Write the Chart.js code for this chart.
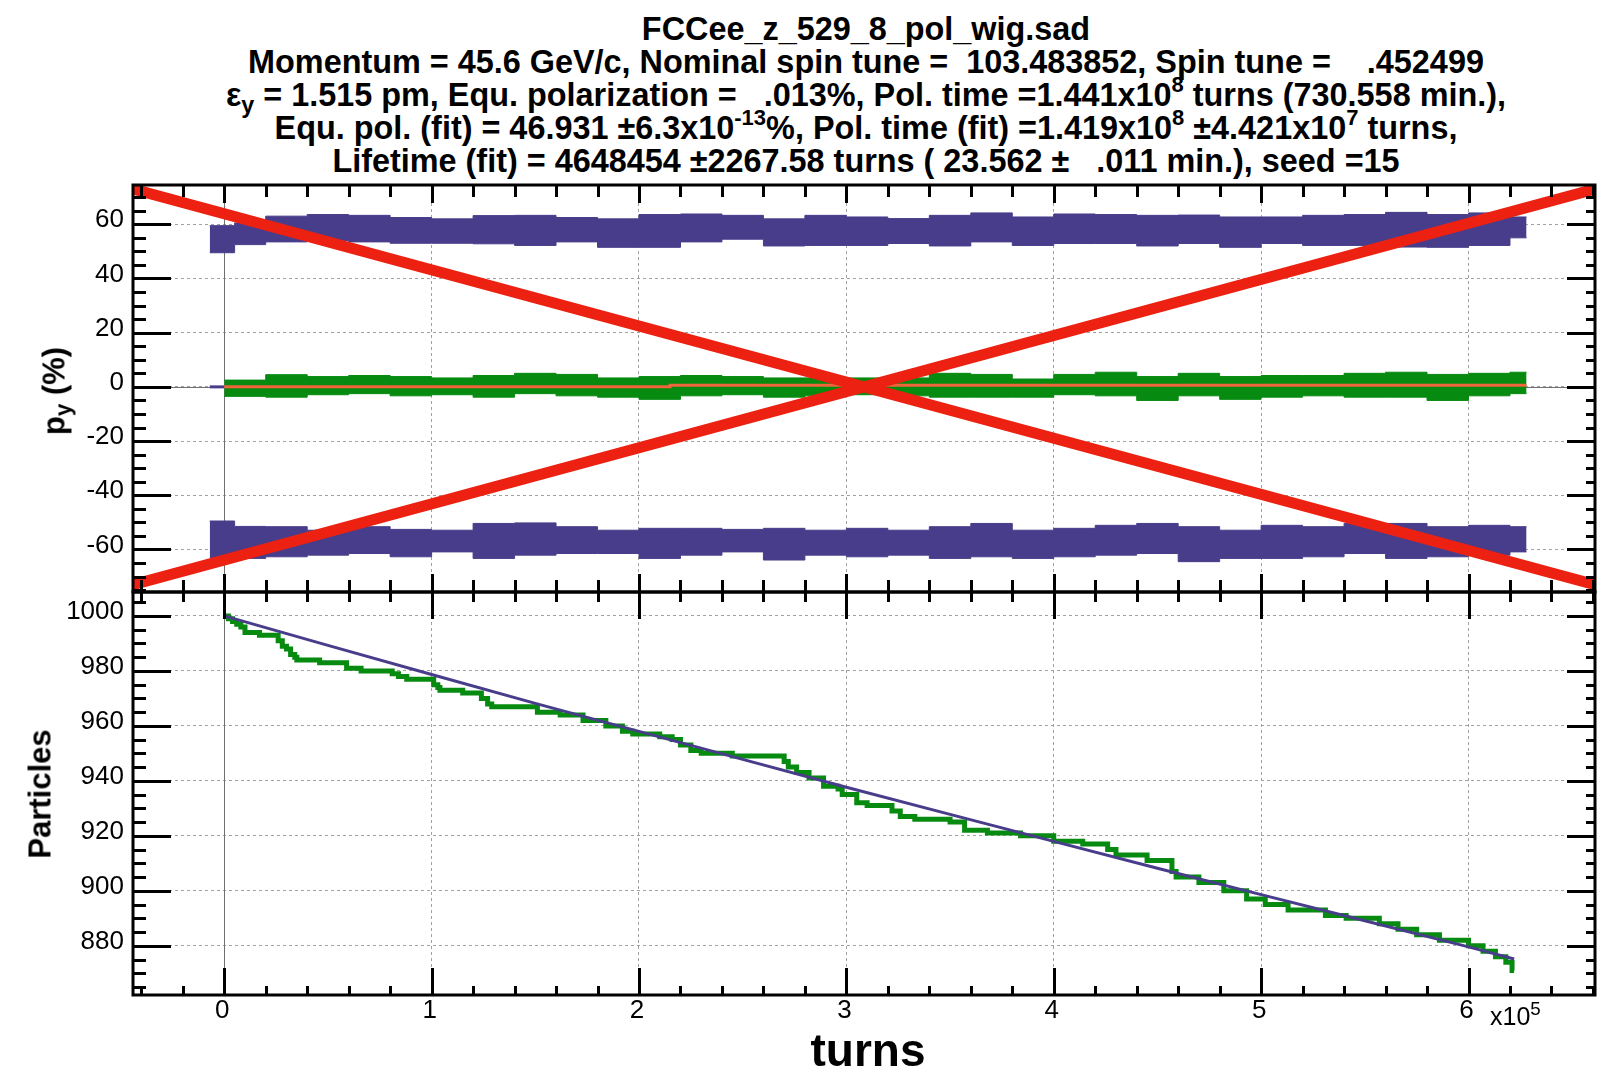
<!DOCTYPE html>
<html>
<head>
<meta charset="utf-8">
<title>FCCee_z_529_8_pol_wig.sad</title>
<script src="https://cdn.jsdelivr.net/npm/chart.js@4.4.1/dist/chart.umd.min.js"></script>
<style>
    html, body { margin: 0; padding: 0; background: #fff; }
    body { position: relative; width: 1598px; height: 1072px; overflow: hidden;
           font-family: "Liberation Sans", Arial, Helvetica, sans-serif; color: #000; }
    #title { position: absolute; left: 0; top: 13px; width: 1732px; text-align: center;
             font-weight: bold; font-size: 32.4px; line-height: 33px; white-space: pre; }
    #title sup { font-size: 0.68em; vertical-align: 0.62em; line-height: 0; }
    #title sub { font-size: 0.72em; vertical-align: -0.28em; line-height: 0; }
    canvas { position: absolute; left: 0; }
    #topChart { top: 180px; }
    #bottomChart { top: 587px; }
    .label { position: absolute; white-space: nowrap; line-height: 1; }
    .ytitle { font-weight: bold; font-size: 31px; transform: translate(-50%, -50%) rotate(-90deg); }
    .ytitle sub { font-size: 0.72em; vertical-align: -0.25em; line-height: 0; }
    #xTitle { left: 868px; top: 1050px; font-weight: bold; font-size: 46px; transform: translate(-50%, -50%); }
    #xExp { left: 1490px; top: 1004px; font-size: 25px; }
    #xExp sup { font-size: 0.75em; vertical-align: 0.55em; line-height: 0; }
</style>
</head>
<body>

<div id="title"><div>FCCee_z_529_8_pol_wig.sad</div><div>Momentum = 45.6 GeV/c, Nominal spin tune =  103.483852, Spin tune =    .452499</div><div>ε<sub>y</sub> = 1.515 pm, Equ. polarization =   .013%, Pol. time =1.441x10<sup>8</sup> turns (730.558 min.),</div><div>Equ. pol. (fit) = 46.931 ±6.3x10<sup>-13</sup>%, Pol. time (fit) =1.419x10<sup>8</sup> ±4.421x10<sup>7</sup> turns,</div><div>Lifetime (fit) = 4648454 ±2267.58 turns ( 23.562 ±   .011 min.), seed =15</div></div>

<canvas id="topChart" width="1598" height="417"></canvas>
<canvas id="bottomChart" width="1598" height="485"></canvas>

<div class="label ytitle" style="left:54px; top:391px;">p<sub>y</sub> (%)</div>
<div class="label ytitle" style="left:40px; top:794px;">Particles</div>
<div class="label" id="xTitle">turns</div>
<div class="label" id="xExp">x10<sup>5</sup></div>

<script>
// Spin polarisation + particle survival, turns in units of 1e5

const X_MIN = -0.44;
const X_MAX = 6.61;

// top panel: band edges, each value holds from bandX[i] to bandX[i+1]
const bandX = [-0.07, 0.05, 0.2, 0.4, 0.6, 0.8, 1.0, 1.2, 1.4, 1.6, 1.8, 2.0, 2.2, 2.4, 2.6, 2.8,
    3.0, 3.2, 3.4, 3.6, 3.8, 4.0, 4.2, 4.4, 4.6, 4.8, 5.0, 5.2, 5.4, 5.6, 5.8, 6.0, 6.2, 6.28];
const upperTop = [59.5, 60.5, 63, 63.6, 63.3, 62.5, 62, 63.2, 63.3, 62.5, 62, 63.6, 63.8, 63.3, 62, 63.3,
    62.7, 62.1, 63.3, 64.2, 62.7, 63.8, 63.6, 63.3, 63.4, 62.7, 62.7, 63.3, 63.6, 64.4, 63.6, 64.2, 62.7];
const upperBottom = [49.5, 52.5, 53.5, 54, 53.5, 53, 53, 52.8, 52.2, 53.5, 51.5, 51.5, 53.5, 54.5, 52, 52.2,
    52.2, 52.9, 52, 53.5, 52.2, 52.9, 52.9, 52, 52.9, 51.5, 52.9, 52.2, 52.2, 51.6, 51.5, 52.2, 55];
const lowerTop = [-49.5, -51.5, -51.6, -52.9, -51.6, -52.6, -52.9, -50.4, -50.2, -51.6, -52.9, -52.2, -52.2, -52.6, -52.2, -52.9,
    -52.2, -52.9, -51.6, -50.4, -52.9, -52.2, -51.1, -50.4, -51.6, -52.9, -51.1, -51.6, -50.4, -50.4, -51.6, -51.1, -51.6];
const lowerBottom = [-63, -63.3, -62.7, -62.1, -61.5, -62.7, -60.9, -63.3, -62.1, -61.5, -61.5, -63.3, -62.1, -60.9, -63.9, -62.1,
    -62.7, -62.1, -63.3, -62.7, -63.3, -62.7, -62.1, -61.5, -64.5, -63.3, -63.3, -62.7, -61.5, -63.3, -62.7, -62.1, -60.9];

const greenX = [0, 0.2, 0.4, 0.6, 0.8, 1.0, 1.2, 1.4, 1.6, 1.8, 2.0, 2.2, 2.4, 2.6, 2.8, 3.0,
    3.2, 3.4, 3.6, 3.8, 4.0, 4.2, 4.4, 4.6, 4.8, 5.0, 5.2, 5.4, 5.6, 5.8, 6.0, 6.2, 6.28];
const greenTop = [2.5, 4.5, 3.8, 4.2, 3.8, 3.3, 4.2, 5, 4.6, 3.3, 3.8, 4.2, 3.8, 3.3, 3.3, 3.3,
    3.3, 5, 4.6, 2.9, 4.6, 5.4, 3.8, 5, 3.8, 4.2, 4.2, 5, 5.4, 4.6, 5, 5.4];
const greenBottom = [-3.5, -3.8, -2.9, -2.5, -3.3, -2.9, -3.8, -2.5, -3.3, -3.8, -4.6, -3.3, -2.9, -3.8, -3.3, -2.9,
    -3.3, -3.8, -3.8, -3.8, -2.9, -3.3, -5, -3.3, -4.6, -3.8, -3.3, -3.8, -3.8, -5, -3.3, -2.5];

const polFitX = [0, 2.15, 2.15, 6.28];
const polFitY = [0, 0, 0.6, 0.6];
const startX = [-0.07, 0];
const startY = [0, 0];

// the red cross over the top panel
const crossX = [-0.44, 6.61];
const crossDown = [73, -73];
const crossUp = [-73, 73];

// bottom panel: surviving particles (level changes at stepX[i])
const stepX = [0, 0.02, 0.04, 0.06, 0.08, 0.10, 0.17, 0.26, 0.28, 0.30,
    0.32, 0.34, 0.35, 0.46, 0.59, 0.66, 0.81, 0.84, 0.88, 1.01,
    1.03, 1.04, 1.15, 1.24, 1.27, 1.29, 1.51, 1.62, 1.73, 1.84,
    1.92, 1.97, 2.10, 2.16, 2.20, 2.25, 2.30, 2.45, 2.70, 2.72,
    2.76, 2.82, 2.89, 2.96, 2.98, 3.05, 3.10, 3.22, 3.26, 3.33,
    3.50, 3.57, 3.68, 3.84, 4.00, 4.14, 4.26, 4.30, 4.45, 4.57,
    4.59, 4.70, 4.82, 4.93, 5.02, 5.13, 5.31, 5.41, 5.57, 5.66,
    5.75, 5.86, 6.00, 6.07, 6.13, 6.18, 6.21, 6.22];
const stepN = [1000, 999, 998, 997, 996, 994, 993, 991, 989, 988,
    986, 985, 984, 983, 981, 980, 979, 978, 977, 975,
    974, 973, 972, 970, 968, 967, 965, 964, 962, 960,
    958, 957, 956, 955, 953, 951, 950, 949, 947, 945,
    943, 941, 938, 937, 935, 932, 931, 929, 927, 926,
    925, 922, 921, 920, 918, 917, 915, 913, 911, 907,
    905, 903, 900, 897, 895, 893, 891, 890, 888, 886,
    884, 882, 880, 878, 876, 874, 871, 871];

const lifeFitX = [0, 0.5, 1, 1.5, 2, 2.5, 3, 3.5, 4, 4.5, 5, 5.5, 6, 6.22];
const lifeFitN = [1000, 989.3, 978.7, 968.2, 958.0, 947.8, 937.7, 927.8, 918.0, 908.2, 898.6, 889.1, 879.6, 875.2];

const PURPLE = '#483d8b';
const GREEN = '#078a10';
const ORANGE = '#f2643c';
const RED = '#ec2111';
const GRID = '#a0a0a0';

Chart.defaults.font.family = "'Liberation Sans', Arial, Helvetica, sans-serif";
Chart.defaults.color = '#000';

function pts(xs, ys) {
    return xs.map((x, i) => ({ x: x, y: ys[i] }));
}

// one value per segment -> stepped points, with a closing point at the end
function segs(xs, vals) {
    const out = vals.map((v, i) => ({ x: xs[i], y: v }));
    out.push({ x: xs[xs.length - 1], y: vals[vals.length - 1] });
    return out;
}

// ROOT-like frame: inward ticks on all four sides, solid zero axes
const rootFrame = {
    id: 'rootFrame',
    beforeDatasetsDraw(chart, args, o) {
        const { ctx, chartArea: a, scales } = chart;
        ctx.save();
        ctx.strokeStyle = '#707070';
        ctx.lineWidth = 1;
        ctx.beginPath();
        const px = Math.round(scales.x.getPixelForValue(0)) + 0.5;
        ctx.moveTo(px, a.top);
        ctx.lineTo(px, a.bottom);
        if (o.zeroLine) {
            const py = Math.round(scales.y.getPixelForValue(0)) + 0.5;
            ctx.moveTo(a.left, py);
            ctx.lineTo(a.right, py);
        }
        ctx.stroke();
        ctx.restore();
    },
    afterDatasetsDraw(chart, args, o) {
        const { ctx, chartArea: a, scales: { x, y } } = chart;
        ctx.save();
        ctx.strokeStyle = '#000';
        ctx.lineWidth = 3;
        ctx.beginPath();
        for (let k = Math.ceil(x.min / o.xMinor - 1e-9); k * o.xMinor <= x.max + 1e-9; k++) {
            const v = k * o.xMinor;
            const major = Math.abs(v - Math.round(v)) < 1e-6;
            const px = Math.round(x.getPixelForValue(v)) + 0.5;
            ctx.moveTo(px, a.top);
            ctx.lineTo(px, a.top + (major ? o.xTopMajor : o.xTopMinor));
            ctx.moveTo(px, a.bottom);
            ctx.lineTo(px, a.bottom - (major ? o.xBotMajor : o.xBotMinor));
        }
        for (let k = Math.ceil(y.min / o.yMinor - 1e-9); k * o.yMinor <= y.max + 1e-9; k++) {
            const v = k * o.yMinor;
            const major = Math.abs(v % o.yMajor) < 1e-6;
            const py = Math.round(y.getPixelForValue(v)) + 0.5;
            ctx.moveTo(a.left, py);
            ctx.lineTo(a.left + (major ? 38 : 13), py);
            ctx.moveTo(a.right, py);
            ctx.lineTo(a.right - (major ? 28 : 9), py);
        }
        ctx.stroke();
        ctx.lineWidth = 3;
        ctx.strokeRect(a.left, a.top, a.right - a.left, a.bottom - a.top);
        ctx.restore();
    }
};
Chart.register(rootFrame);

function gridOpts() {
    return { color: GRID, lineWidth: 1, drawTicks: false };
}

// keep Chart.js from reserving room for half labels at the axis ends
function noEndPadding(s) {
    s.paddingTop = 0;
    s.paddingBottom = 0;
    s.paddingLeft = 0;
    s.paddingRight = 0;
}

function baseOptions(padding, yMin, yMax, frame) {
    return {
        responsive: false,
        animation: false,
        events: [],
        devicePixelRatio: 1,
        layout: { padding: padding },
        elements: { point: { radius: 0 }, line: { tension: 0 } },
        plugins: {
            legend: { display: false },
            tooltip: { enabled: false },
            rootFrame: frame
        },
        scales: {
            x: {
                type: 'linear', min: X_MIN, max: X_MAX,
                ticks: { stepSize: 1, includeBounds: false, labelOffset: -2, callback: v => String(v) },
                grid: gridOpts(),
                border: { display: false, dash: [3, 3] }
            },
            y: {
                type: 'linear', min: yMin, max: yMax,
                afterFit: s => { s.width = 133; noEndPadding(s); },
                ticks: { stepSize: 20, includeBounds: false, padding: 9, labelOffset: -4, color: '#000',
                         font: { size: 26 }, callback: v => String(v) },
                grid: gridOpts(),
                border: { display: false, dash: [3, 3] }
            }
        }
    };
}

// --- top panel: p_y (%)
const topOpts = baseOptions({ top: 5, right: 3, bottom: 5, left: 0 }, -75.7, 74.5,
    { zeroLine: true, xMinor: 0.2, xTopMajor: 18, xTopMinor: 12, xBotMajor: 18, xBotMinor: 12, yMinor: 5, yMajor: 20 });
topOpts.scales.x.ticks.display = false;
topOpts.scales.x.afterFit = s => { s.height = 0; noEndPadding(s); };

new Chart(document.getElementById('topChart'), {
    type: 'line',
    data: {
        datasets: [
            { data: pts(crossX, crossDown), borderColor: RED, borderWidth: 11, order: 0 },
            { data: pts(crossX, crossUp), borderColor: RED, borderWidth: 11, order: 0 },
            { data: pts(polFitX, polFitY), borderColor: ORANGE, borderWidth: 3, order: 1 },
            { data: segs(greenX, greenTop), stepped: true, borderColor: GREEN, borderWidth: 1,
              backgroundColor: GREEN, fill: '+1', order: 2 },
            { data: segs(greenX, greenBottom), stepped: true, borderColor: GREEN, borderWidth: 1, fill: false, order: 2 },
            { data: segs(bandX, upperTop), stepped: true, borderColor: PURPLE, borderWidth: 1,
              backgroundColor: PURPLE, fill: '+1', order: 3 },
            { data: segs(bandX, upperBottom), stepped: true, borderColor: PURPLE, borderWidth: 1, fill: false, order: 3 },
            { data: segs(bandX, lowerTop), stepped: true, borderColor: PURPLE, borderWidth: 1,
              backgroundColor: PURPLE, fill: '+1', order: 3 },
            { data: segs(bandX, lowerBottom), stepped: true, borderColor: PURPLE, borderWidth: 1, fill: false, order: 3 },
            { data: pts(startX, startY), borderColor: PURPLE, borderWidth: 3, order: 3 }
        ]
    },
    options: topOpts
});

// --- bottom panel: Particles
const botOpts = baseOptions({ top: 5, right: 3, bottom: 0, left: 0 }, 862.1, 1008.7,
    { zeroLine: false, xMinor: 0.2, xTopMajor: 27, xTopMinor: 10, xBotMajor: 27, xBotMinor: 9, yMinor: 5, yMajor: 20 });
botOpts.scales.x.ticks.padding = 0;
botOpts.scales.x.ticks.color = '#000';
botOpts.scales.x.ticks.font = { size: 26 };
botOpts.scales.x.afterFit = s => { s.height = 77; noEndPadding(s); };

new Chart(document.getElementById('bottomChart'), {
    type: 'line',
    data: {
        datasets: [
            { data: pts(lifeFitX, lifeFitN), borderColor: PURPLE, borderWidth: 3, order: 0 },
            { data: pts(stepX, stepN), stepped: true, borderColor: GREEN, borderWidth: 5, order: 1 }
        ]
    },
    options: botOpts
});
</script>
</body>
</html>
